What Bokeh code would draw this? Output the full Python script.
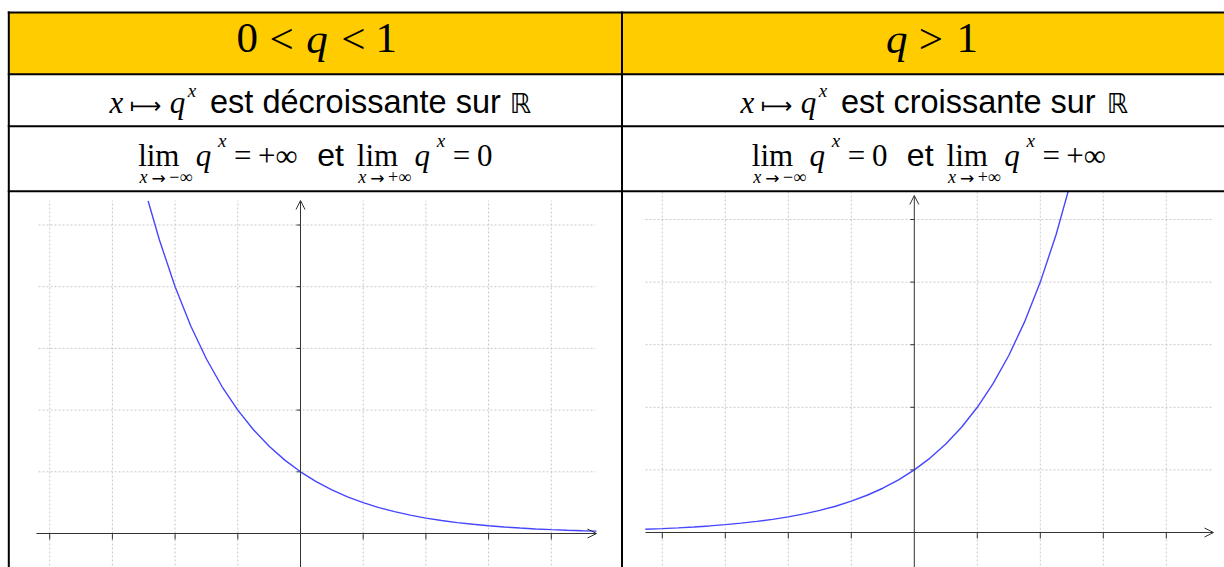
from bokeh.plotting import figure
from bokeh.models import Range1d, Arrow, OpenHead
from bokeh.embed import file_html
from bokeh.resources import INLINE
from bokeh.core.properties import value

# ---------------- data ----------------
# q = 1/2 : decreasing exponential
x_dec = [-2.43, -2.25, -2.0, -1.75, -1.5, -1.25, -1.0, -0.75, -0.5, -0.25, 0.0,
         0.25, 0.5, 0.75, 1.0, 1.25, 1.5, 1.75, 2.0, 2.25, 2.5, 2.75, 3.0,
         3.25, 3.5, 3.75, 4.0, 4.25, 4.5, 4.72]
y_dec = [5.389, 4.757, 4.0, 3.364, 2.828, 2.378, 2.0, 1.682, 1.414, 1.189, 1.0,
         0.841, 0.707, 0.595, 0.5, 0.420, 0.354, 0.297, 0.25, 0.210, 0.177, 0.149, 0.125,
         0.105, 0.088, 0.074, 0.0625, 0.053, 0.044, 0.038]
# q = 2 : increasing exponential
x_inc = [-4.27, -4.0, -3.75, -3.5, -3.25, -3.0, -2.75, -2.5, -2.25, -2.0, -1.75,
         -1.5, -1.25, -1.0, -0.75, -0.5, -0.25, 0.0, 0.25, 0.5, 0.75, 1.0,
         1.25, 1.5, 1.75, 2.0, 2.25, 2.5]
y_inc = [0.052, 0.0625, 0.074, 0.088, 0.105, 0.125, 0.149, 0.177, 0.210, 0.25, 0.297,
         0.354, 0.420, 0.5, 0.595, 0.707, 0.841, 1.0, 1.189, 1.414, 1.682, 2.0,
         2.378, 2.828, 3.364, 4.0, 4.757, 5.657]
x_ticks = [-4, -3, -2, -1, 1, 2, 3, 4]
y_ticks = [1, 2, 3, 4, 5]

header_left = ["0", "<", "q", "<", "1"]
header_left_italic = [False, False, True, False, False]
header_right = ["q", ">", "1"]
header_right_italic = [True, False, False]
sense_left = "est décroissante sur"
sense_right = "est croissante sur"
limits_left = ["−∞", "+∞", "+∞", "0"]
limits_right = ["−∞", "0", "+∞", "+∞"]

# ---------------- styles ----------------
YELLOW = "#FFCC00"
GRID = "#c8c8c8"
AXIS = "#333333"
BLUE = "#4646ff"
SERIF = "Liberation Serif"
SANS = "Liberation Sans"
BASE_K = 0.32   # correction so that y is the alphabetic baseline

W, H = 1224, 567
p = figure(width=W, height=H, x_range=Range1d(0, W), y_range=Range1d(H, 0),
           output_backend="svg", toolbar_location=None, min_border=0,
           x_axis_location=None, y_axis_location=None)
p.outline_line_color = None
p.background_fill_color = "white"
p.border_fill_color = "white"
p.grid.visible = False
for r in list(p.center):
    r.visible = False

# panel geometry (page pixels): origin and unit lengths
PANELS = {
    "L": dict(ox=300.0, oy=533.0, ux=62.7, uy=61.7, ax_lo=36, ax_hi=596,
              gx_lo=38, gx_hi=595, g_top=200, ay_top=200),
    "R": dict(ox=913.8, oy=532.0, ux=63.0, uy=62.6, ax_lo=645, ax_hi=1213,
              gx_lo=645, gx_hi=1212, g_top=191, ay_top=195),
}
p.extra_x_ranges = {k: Range1d((0 - g["ox"]) / g["ux"], (W - g["ox"]) / g["ux"])
                    for k, g in PANELS.items()}
p.extra_y_ranges = {k: Range1d((g["oy"] - H) / g["uy"], (g["oy"] - 0) / g["uy"])
                    for k, g in PANELS.items()}


def panel(rn, cx, cy):
    g = PANELS[rn]
    X = lambda px: (px - g["ox"]) / g["ux"]
    Y = lambda py: (g["oy"] - py) / g["uy"]
    bottom = Y(H + 2)
    kw = dict(x_range_name=rn, y_range_name=rn)
    # dotted grid
    p.segment(x0=x_ticks, x1=x_ticks, y0=[bottom] * len(x_ticks), y1=[Y(g["g_top"])] * len(x_ticks),
              line_color=GRID, line_dash="2 2", line_width=1, **kw)
    p.segment(x0=[X(g["gx_lo"])] * len(y_ticks), x1=[X(g["gx_hi"])] * len(y_ticks),
              y0=y_ticks, y1=y_ticks, line_color=GRID, line_dash="2 2", line_width=1, **kw)
    # tick marks
    p.segment(x0=x_ticks, x1=x_ticks, y0=[0] * len(x_ticks), y1=[-6 / g["uy"]] * len(x_ticks),
              line_color=AXIS, line_width=1, **kw)
    p.segment(x0=[-4 / g["ux"]] * len(y_ticks), x1=[0] * len(y_ticks), y0=y_ticks, y1=y_ticks,
              line_color=AXIS, line_width=1, **kw)
    # axes with open arrow heads
    p.add_layout(Arrow(end=OpenHead(size=9, line_color=AXIS, line_width=1),
                       x_start=X(g["ax_lo"]), y_start=0, x_end=X(g["ax_hi"]), y_end=0,
                       line_color=AXIS, line_width=1, **kw))
    p.add_layout(Arrow(end=OpenHead(size=9, line_color=AXIS, line_width=1),
                       x_start=0, y_start=bottom, x_end=0, y_end=Y(g["ay_top"]),
                       line_color=AXIS, line_width=1, **kw))
    # curve
    p.line(cx, cy, line_color=BLUE, line_width=1.4, **kw)


panel("L", x_dec, y_dec)
panel("R", x_inc, y_inc)

# ---------------- table ----------------
R0, R1, R2, R3 = 12.0, 73.7, 125.7, 190.7
p.quad(left=[8], right=[W], top=[R0], bottom=[R1], fill_color=YELLOW, line_color=None)
p.quad(left=[8], right=[W], top=[R1], bottom=[R3], fill_color="white", line_color=None)
p.segment(x0=[7.3] * 4, x1=[W] * 4, y0=[R0, R1, R2, R3], y1=[R0, R1, R2, R3],
          line_color="black", line_width=2)
p.segment(x0=[8.3, 621.5], x1=[8.3, 621.5], y0=[R0 - 1, R0 - 1], y1=[H + 2] * 2,
          line_color="black", line_width=2)


def put(xs, ys, texts, font, size, italic=False, align="center"):
    p.text(x=xs, y=[y - BASE_K * size for y in ys], text=texts, text_font=value(font),
           text_font_size=value(f"{size}px"),
           text_font_style=value("italic" if italic else "normal"), text_align=value(align),
           text_baseline=value("alphabetic"), text_color="black")


# header row
hl_x = [246.8, 281.2, 316.5, 353.0, 385.7]
hr_x = [896.3, 930.3, 966.7]
for txts, xs, its in ((header_left, hl_x, header_left_italic), (header_right, hr_x, header_right_italic)):
    for t, x, it in zip(txts, xs, its):
        put([x], [51.7], [t], SERIF, 43, italic=it)

# row 2 : x -> q^x  est (dé)croissante sur R
for shift, txt, rx in ((0.0, sense_left, 520.0), (631.0, sense_right, 1117.0)):
    put([116 + shift, 177 + shift], [111.7, 111.7], ["x", "q"], SERIF, 31, italic=True)
    put([145 + shift], [111.7], ["⟼"], "DejaVu Sans", 22)
    put([191.5 + shift], [96.0], ["x"], SERIF, 19, italic=True)
    put([209.5 + shift], [111.7], [txt], SANS, 32.5, align="left")
    put([rx], [111.7], ["ℝ"], "DejaVu Sans", 27)

# row 3 : limits
for groups, vals, et_x in (((139.3, 358.0), limits_left, 330.0), ((753.0, 947.7), limits_right, 919.7)):
    for gi, g0 in enumerate(groups):
        put([g0 + 19.0], [164.7], ["lim"], SERIF, 31)
        put([g0 + 3.7], [182.5], ["x"], SERIF, 18, italic=True)
        put([g0 + 18.8], [182.5], ["→"], "DejaVu Sans", 17)
        put([g0 + 41.0], [182.5], [vals[2 * gi]], SERIF, 18)
        put([g0 + 63.8], [164.7], ["q"], SERIF, 31, italic=True)
        put([g0 + 82.4], [146.5], ["x"], SERIF, 19, italic=True)
        put([g0 + 103.0], [164.7], ["="], SERIF, 31)
        v = vals[2 * gi + 1]
        put([g0 + (137.9 if v == "+∞" else 126.2)], [164.7], [v], SERIF, 31)
    put([et_x], [164.7], ["et"], SANS, 32)

open("out.html", "w").write(file_html(p, INLINE))
